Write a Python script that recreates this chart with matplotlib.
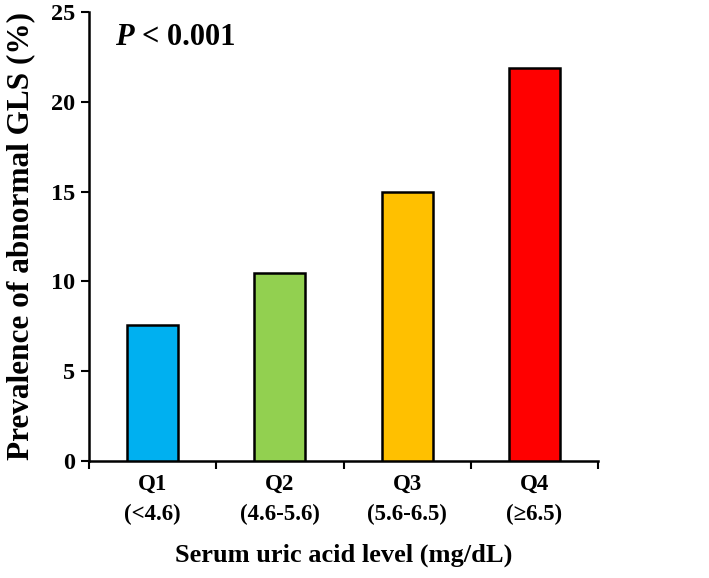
import numpy as np
import matplotlib.pyplot as plt

# Data
quartiles = ["Q1", "Q2", "Q3", "Q4"]
ranges = ["(<4.6)", "(4.6-5.6)", "(5.6-6.5)", "(≥6.5)"]
prevalence = [7.6, 10.45, 14.95, 21.9]
colors = ["#00b0f0", "#92d050", "#ffc000", "#ff0000"]

plt.rcParams["font.family"] = ["Liberation Serif", "DejaVu Serif"]
plt.rcParams["font.weight"] = "bold"

fig = plt.figure(figsize=(7.09, 5.78), dpi=100)
ax = fig.add_axes([89 / 709, (578 - 461) / 578, (598 - 89) / 709, (461 - 12) / 578])

x = np.arange(len(quartiles))
ax.bar(x, prevalence, width=0.4, color=colors, edgecolor="black", linewidth=1.8, zorder=3)

ax.set_xlim(-0.5, 3.5)
ax.set_ylim(0, 25)
ax.set_yticks([0, 5, 10, 15, 20, 25])
ax.tick_params(axis="y", labelsize=17.5, width=1.5, length=6, direction="out", pad=4)

# category labels sit between the boundary ticks
ax.set_xticks(np.arange(-0.5, 4, 1.0))
ax.set_xticklabels([])
ax.tick_params(axis="x", width=1.5, length=6, direction="out")
ax.set_xticks(x, minor=True)
ax.set_xticklabels([f"{q}\n{r}" for q, r in zip(quartiles, ranges)], minor=True,
                   fontsize=16.5, linespacing=1.55)
ax.tick_params(axis="x", which="minor", length=0, pad=9)

for s in ["top", "right"]:
    ax.spines[s].set_visible(False)
for s in ["left", "bottom"]:
    ax.spines[s].set_linewidth(1.8)

ax.set_ylabel("Prevalence of abnormal GLS (%)", fontsize=22.5, fontweight="bold", labelpad=11)
ax.set_xlabel("Serum uric acid level (mg/dL)", fontsize=19, fontweight="bold", labelpad=14)

# P value
ax.text(0.051, 0.926, "P", transform=ax.transAxes, fontsize=22, va="baseline",
        fontstyle="italic", fontweight="bold")
ax.text(0.104, 0.926, "< 0.001", transform=ax.transAxes, fontsize=22, va="baseline",
        fontweight="bold")

fig.savefig("out.png", dpi=100)
